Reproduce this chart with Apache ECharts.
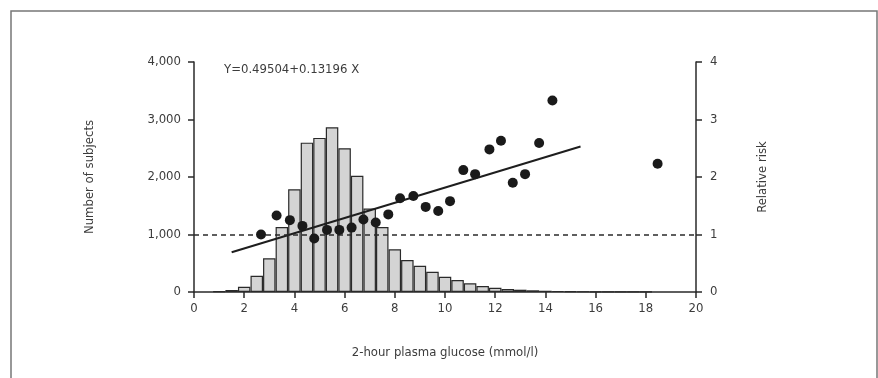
<!DOCTYPE html>
<html>
<head>
<meta charset="utf-8">
<script src="https://cdn.jsdelivr.net/npm/echarts@6/dist/echarts.min.js"></script>
<style>
  html, body { margin: 0; padding: 0; background: #fff; }
  #chart { width: 878px; height: 378px; }
</style>
</head>
<body>
<div id="chart"></div>
<script>
// histogram: bin centres (mmol/l) and number of subjects
const binCentres = [1.0, 1.5, 2.0, 2.5, 3.0, 3.5, 4.0, 4.5, 5.0, 5.5, 6.0, 6.5, 7.0, 7.5, 8.0, 8.5, 9.0, 9.5,
  10.0, 10.5, 11.0, 11.5, 12.0, 12.5, 13.0, 13.5, 14.0, 14.5, 15.0, 15.5, 16.0, 16.5, 17.0, 17.5, 18.0]
const subjects = [10, 35, 92, 283, 586, 1130, 1786, 2597, 2680, 2864, 2500, 2023, 1450, 1130, 743, 557, 457, 353,
  266, 209, 151, 104, 75, 52, 40, 30, 22, 18, 12, 9, 7, 5, 4, 3, 2]

// relative risk points
const riskX = [2.67, 3.29, 3.82, 4.32, 4.79, 5.30, 5.79, 6.28, 6.75, 7.24, 7.74, 8.21, 8.74, 9.23, 9.73, 10.2,
  10.73, 11.2, 11.77, 12.23, 12.7, 13.19, 13.75, 14.28, 18.47]
const riskY = [1.00, 1.33, 1.25, 1.15, 0.93, 1.08, 1.08, 1.12, 1.26, 1.21, 1.35, 1.63, 1.67, 1.48, 1.41, 1.58,
  2.12, 2.05, 2.48, 2.63, 1.90, 2.05, 2.59, 3.33, 2.23]

// fitted line end points (Y = 0.49504 + 0.13196 X)
const fitX = [1.5, 15.4]
const fitY = [0.69, 2.53]

const xTicks = [0, 20, 2]
const leftTicks = [0, 4000, 1000]
const rightTicks = [0, 4, 1]

const FONT = "'Liberation Sans Narrow', 'DejaVu Sans Condensed', sans-serif"
const INK = '#2a2a2a'
const LABEL = '#3c3c3c'

const chart = echarts.init(document.getElementById('chart'))

const option = {
  animation: false,
  textStyle: { fontFamily: FONT },
  grid: { left: 194, right: 182, top: 62, bottom: 86 },
  graphic: [
    {
      type: 'rect',
      shape: { x: 11, y: 11, width: 866, height: 400 },
      style: { fill: 'none', stroke: '#777', lineWidth: 1.5 },
    },
    {
      type: 'text',
      left: 224,
      top: 63,
      style: { text: 'Y=0.49504+0.13196 X', fill: LABEL, font: `13px ${FONT}` },
    },
  ],
  xAxis: {
    type: 'value',
    min: xTicks[0],
    max: xTicks[1],
    interval: xTicks[2],
    name: '2-hour plasma glucose (mmol/l)',
    nameLocation: 'middle',
    nameGap: 54,
    nameTextStyle: { color: LABEL, fontSize: 13, fontFamily: FONT },
    axisLine: { lineStyle: { color: INK, width: 1.5 } },
    axisTick: { length: 6, lineStyle: { color: INK, width: 1.5 } },
    axisLabel: { color: LABEL, fontSize: 13, margin: 10 },
    splitLine: { show: false },
  },
  yAxis: [
    {
      type: 'value',
      position: 'left',
      min: leftTicks[0],
      max: leftTicks[1],
      interval: leftTicks[2],
      name: 'Number of subjects',
      nameLocation: 'middle',
      nameRotate: 90,
      nameGap: 98,
      nameTextStyle: { color: LABEL, fontSize: 13, fontFamily: FONT },
      axisLine: { show: true, lineStyle: { color: INK, width: 1.5 } },
      axisTick: { show: true, length: 6, lineStyle: { color: INK, width: 1.5 } },
      axisLabel: {
        color: LABEL, fontSize: 13, margin: 13,
        formatter: (v) => v.toLocaleString('en-US'),
      },
      splitLine: { show: false },
    },
    {
      type: 'value',
      position: 'right',
      min: rightTicks[0],
      max: rightTicks[1],
      interval: rightTicks[2],
      name: 'Relative risk',
      nameLocation: 'middle',
      nameRotate: 90,
      nameGap: 60,
      nameTextStyle: { color: LABEL, fontSize: 13, fontFamily: FONT },
      axisLine: { show: true, lineStyle: { color: INK, width: 1.5 } },
      axisTick: { show: true, length: 6, lineStyle: { color: INK, width: 1.5 } },
      axisLabel: { color: LABEL, fontSize: 13, margin: 14 },
      splitLine: { show: false },
    },
  ],
  series: [
    {
      type: 'bar',
      yAxisIndex: 0,
      barWidth: 12.5,
      data: binCentres.map((x, i) => [x, subjects[i]]),
      itemStyle: { color: '#d4d4d4', borderColor: INK, borderWidth: 1.2 },
      z: 2,
    },
    {
      type: 'line',
      yAxisIndex: 1,
      data: fitX.map((x, i) => [x, fitY[i]]),
      symbol: 'none',
      lineStyle: { color: '#1e1e1e', width: 2 },
      z: 4,
    },
    {
      type: 'scatter',
      yAxisIndex: 1,
      data: riskX.map((x, i) => [x, riskY[i]]),
      symbolSize: 10,
      itemStyle: { color: '#1a1a1a', opacity: 1 },
      z: 5,
      markLine: {
        silent: true,
        symbol: 'none',
        label: { show: false },
        lineStyle: { color: INK, type: [5, 4], width: 1.5 },
        data: [{ yAxis: 1 }],
      },
    },
  ],
}

chart.setOption(option)
</script>
</body>
</html>
